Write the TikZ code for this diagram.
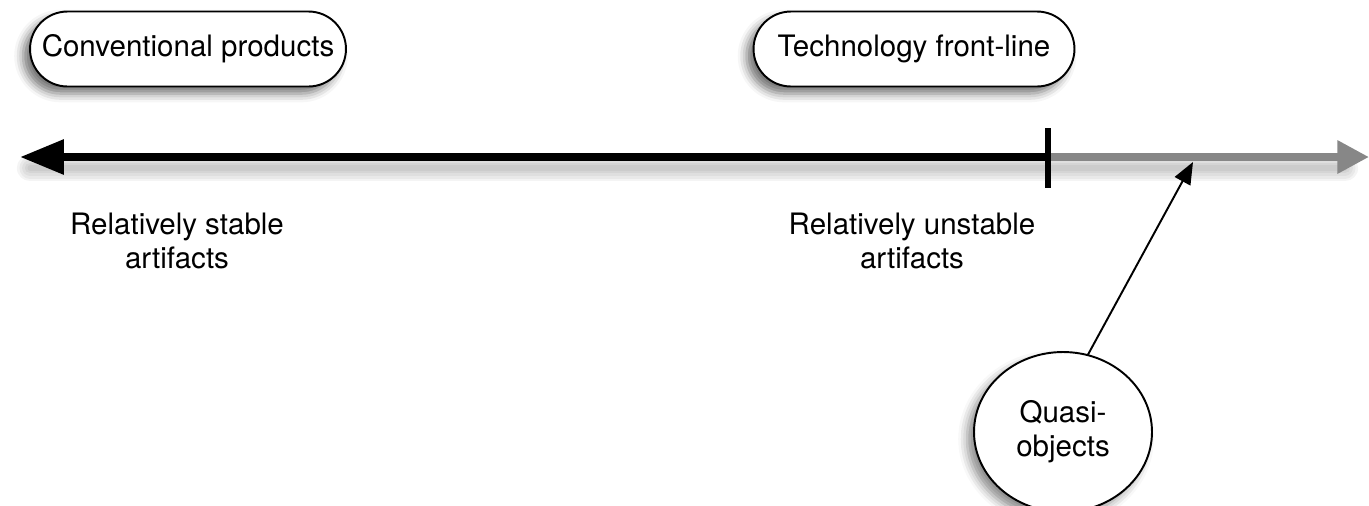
\documentclass[tikz,border=0pt]{standalone}
\usepackage{fontspec}
\setmainfont{TeX Gyre Heros}
\usetikzlibrary{shapes.misc,shapes.geometric,arrows.meta,shadows.blur}
\begin{document}
\begin{tikzpicture}[x=0.02cm,y=-0.02cm,
  every node/.style={font=\fontsize{16.8}{19.4}\selectfont},
  pill/.style={rounded rectangle, draw=black, line width=1.1pt, fill=white,
    minimum height=75*0.5691pt, inner xsep=2pt,
    blur shadow={shadow xshift=-4pt, shadow yshift=-4pt, shadow blur radius=5pt, shadow opacity=55}},
  oval/.style={ellipse, draw=black, line width=1.1pt, fill=white,
    minimum width=178*0.5691pt, minimum height=160*0.5691pt, align=center,
    blur shadow={shadow xshift=-4pt, shadow yshift=-4pt, shadow blur radius=5pt, shadow opacity=45}},
  lbl/.style={align=center},
  shad/.style={line width=#1, draw=black, opacity=0.045, line cap=round}
]
\useasboundingbox (0,0) rectangle (1369,505);

% axis points
\coordinate (L) at (20,157);
\coordinate (T) at (1048,157);
\coordinate (R) at (1369,157);
\coordinate (Ttop) at (1048,128);
\coordinate (Tbot) at (1048,188);

% soft shadow of the axis
\foreach \w in {3,6,9,12,15} {
  \draw[shad=\w pt] (30,168) -- (1345,168);
}

% pills
\node[pill, minimum width=323*0.5691pt] (conv) at (188,49) {Conventional products};
\node[pill, minimum width=328*0.5691pt] (tech) at (914,49) {Technology front-line};

% axis
\draw[line width=4.5pt, -{Triangle[length=25pt,width=19pt]}] (T) -- (L);
\draw[line width=4.2pt, draw=black!47, -{Triangle[length=18pt,width=18pt]}] (T) -- (R);
\draw[line width=3.4pt] (Ttop) -- (Tbot);

% labels
\node[lbl] (stable) at (177,241) {Relatively stable\\artifacts};
\node[lbl] (unstable) at (912,241) {Relatively unstable\\artifacts};

% quasi-objects
\node[oval] (quasi) at (1063,432) {Quasi-\\objects};
\coordinate (P) at (1193,162);
\draw[line width=1.1pt, -{Triangle[length=12.5pt,width=10pt]}] (quasi.north) ++(25*0.5691pt,-2pt) -- (P);
\end{tikzpicture}
\end{document}
